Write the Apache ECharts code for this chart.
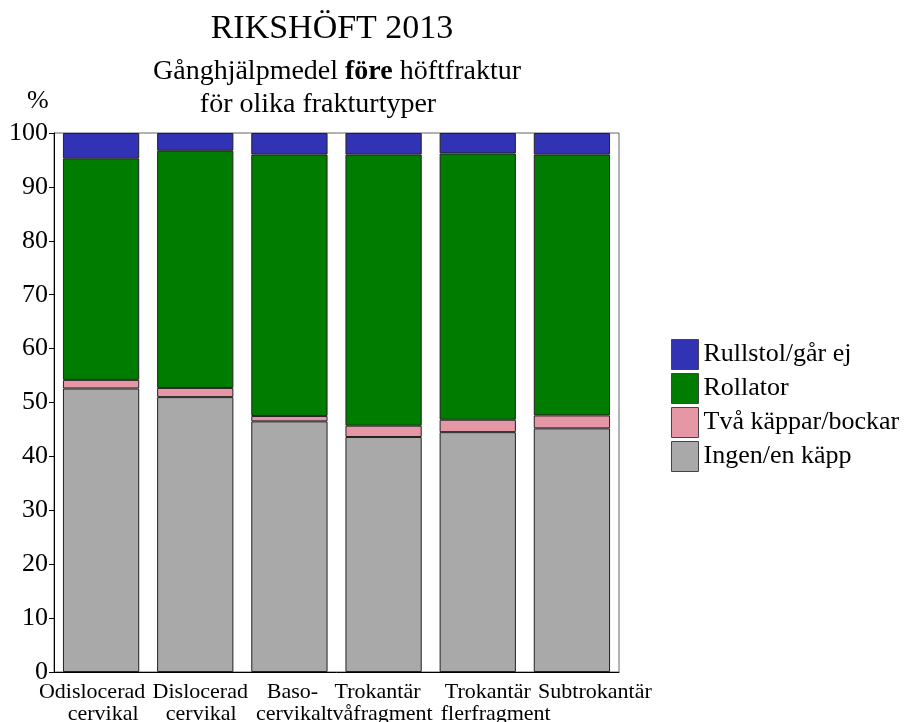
<!DOCTYPE html>
<html><head><meta charset="utf-8">
<script src="https://cdn.jsdelivr.net/npm/echarts@6/dist/echarts.min.js"></script>
<style>html,body{margin:0;padding:0;background:#fff}#c{width:908px;height:722px}</style>
</head><body><div id="c"></div>
<script>
const categories = ['Odislocerad\ncervikal','Dislocerad\ncervikal','Baso-\ncervikal','Trokantär\ntvåfragment','Trokantär\nflerfragment','Subtrokantär'];
const seriesNames = ['Ingen/en käpp','Två käppar/bockar','Rollator','Rullstol/går ej'];
const ingen    = [52.6, 51.0, 46.5, 43.6, 44.5, 45.2];
const tva      = [1.6, 1.7, 1.0, 2.1, 2.3, 2.4];
const rollator = [41.1, 44.0, 48.5, 50.3, 49.4, 48.4];
const rullstol = [4.7, 3.3, 4.0, 4.0, 3.8, 4.0];
const yTicks = [0,10,20,30,40,50,60,70,80,90,100];
const colors = ['#a9a9a9','#e597a5','#007c00','#3232b4'];
const values = [ingen, tva, rollator, rullstol];
const font = '"Liberation Serif","Times New Roman",serif';

// label line nudges (style only), px: [line1, line2] per category
const labelNudge = [[-9,2],[5,6],[3,2],[-6,-4],[10,18],[23,0]];
const rich = {};
labelNudge.forEach((p,i)=>p.forEach((dx,j)=>{
  rich['s'+i+'_'+j] = {fontFamily:font,fontSize:22,color:'#000',align:'center',lineHeight:22,
    padding: dx>0 ? [0,0,0,2*dx] : [0,-2*dx,0,0]};
}));

const chart = echarts.init(document.getElementById('c'));
chart.setOption({
  animation:false,
  backgroundColor:'#fff',
  title:[
    {text:'RIKSHÖFT 2013',left:332,textAlign:'center',top:12,padding:0,
     textStyle:{fontFamily:font,fontSize:34,fontWeight:'normal',color:'#000'}},
    {text:'{n|Gånghjälpmedel }{b|före}{n| höftfraktur}',left:337,textAlign:'center',top:58,padding:0,
     textStyle:{fontFamily:font,fontSize:28,color:'#000',
       rich:{n:{fontFamily:font,fontSize:28,color:'#000',fontWeight:'normal'},
             b:{fontFamily:font,fontSize:28,color:'#000',fontWeight:'bold'}}}},
    {text:'för olika frakturtyper',left:318,textAlign:'center',top:91,padding:0,
     textStyle:{fontFamily:font,fontSize:28,fontWeight:'normal',color:'#000'}}
  ],
  graphic:[{type:'text',left:27,top:88,style:{text:'%',font:'26px '+font,fill:'#000'}}],
  legend:{
    orient:'vertical', left:671, top:339, itemWidth:27, itemHeight:30, itemGap:3,
    padding:0,
    data:['Rullstol/går ej','Rollator','Två käppar/bockar','Ingen/en käpp'],
    textStyle:{fontFamily:font,fontSize:26,color:'#000'},
    icon:'rect', itemStyle:{borderColor:'#444',borderWidth:1}
  },
  grid:{left:54,right:289,top:133,bottom:50,outerBoundsMode:'none',containLabel:false,
    show:true,borderColor:'#666',borderWidth:1},
  xAxis:{type:'category',data:categories,
    axisLine:{lineStyle:{color:'#000'}},axisTick:{show:false},
    axisLabel:{fontFamily:font,fontSize:22,color:'#000',margin:9,lineHeight:22,interval:0,
      formatter:(v,idx)=>v.split('\n').map((t,j)=>'{s'+idx+'_'+j+'|'+t+'}').join('\n'),
      rich:rich}},
  yAxis:{type:'value',min:0,max:100,interval:10,
    axisLine:{show:true,lineStyle:{color:'#000'}},
    axisTick:{show:true,length:5,lineStyle:{color:'#000'}},
    splitLine:{show:false},
    axisLabel:{fontFamily:font,fontSize:26,color:'#000',margin:6,
      formatter:v=>yTicks.includes(v)?String(v):''}},
  series: seriesNames.map((n,i)=>({
    name:n,type:'bar',stack:'s',data:values[i],barCategoryGap:'19%',
    itemStyle:{color:colors[i],borderColor:'#222',borderWidth:1}
  }))
});
</script></body></html>
